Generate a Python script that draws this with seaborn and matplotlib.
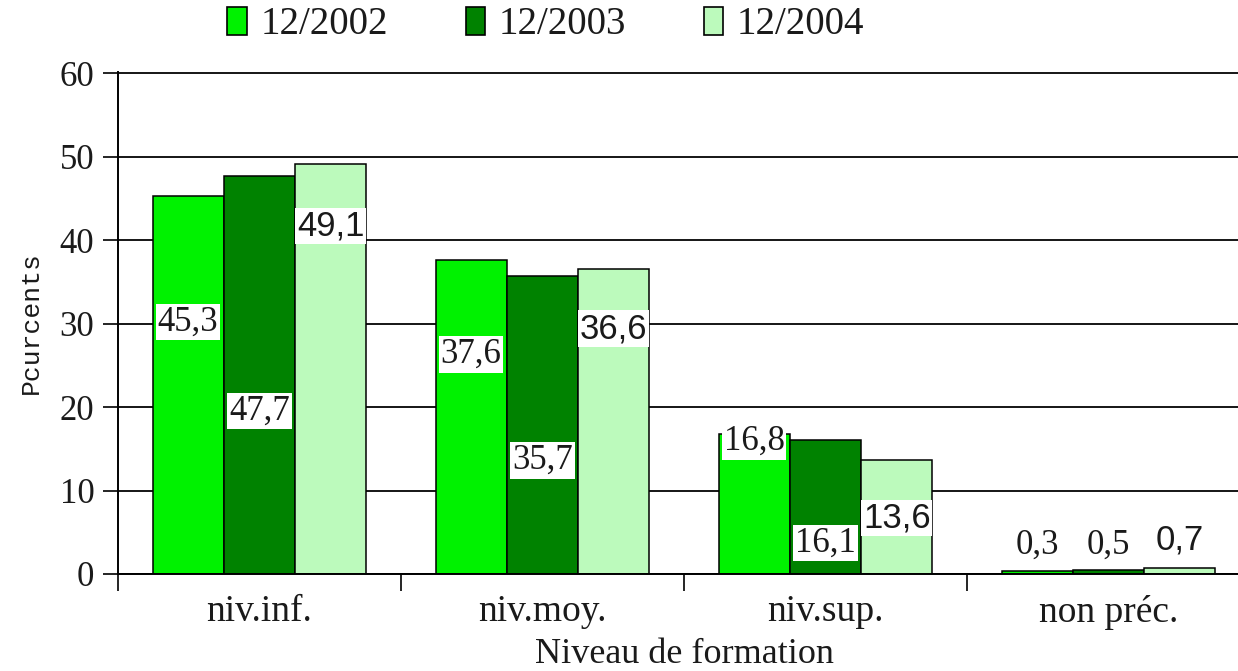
import numpy as np
import pandas as pd
import seaborn as sns
import matplotlib.pyplot as plt
from matplotlib.patches import Patch
from matplotlib.ticker import FixedLocator

# ---- data ----
categories = ["niv.inf.", "niv.moy.", "niv.sup.", "non préc."]
periods = ["12/2002", "12/2003", "12/2004"]
v2002 = [45.3, 37.6, 16.8, 0.3]
v2003 = [47.7, 35.7, 16.1, 0.5]
v2004 = [49.1, 36.6, 13.6, 0.7]
series = [v2002, v2003, v2004]
yticks = [0, 10, 20, 30, 40, 50, 60]

# ---- layout / style ----
colors = ["#00F200", "#008200", "#BCFABC"]
label_y = [  # vertical placement (data units) of value labels, per series
    [30.2, 26.3, 15.9, 3.5],
    [19.5, 13.6, 3.7, 3.5],
    [41.7, 29.4, 6.7, 4.1],
]
label_family = ["Liberation Serif", "Liberation Serif", "Liberation Sans"]
label_size = [25, 25, 25]

df = pd.DataFrame({
    "Niveau": categories * len(periods),
    "Periode": np.repeat(periods, len(categories)),
    "Pourcents": v2002 + v2003 + v2004,
})

sns.set_theme(style="white")
plt.rcParams["font.family"] = ["Liberation Serif", "DejaVu Serif"]
text_col = "#1a1a1a"

fig = plt.figure(figsize=(12.38, 6.71), dpi=100)
ax = fig.add_axes([118 / 1238, 97 / 671, 1132 / 1238, 502 / 671])

sns.barplot(data=df, x="Niveau", y="Pourcents", hue="Periode",
            palette=colors, width=0.756, gap=0, edgecolor="black",
            linewidth=1.1, saturation=1, legend=False, ax=ax, zorder=2)

ax.set_xlim(-0.5, 3.5)
ax.set_ylim(0, 60.15)
ax.set_yticks(yticks)
ax.set_yticklabels([str(t) for t in yticks], fontsize=25, color=text_col)
ax.yaxis.grid(True, color="#151515", linewidth=1.4)
ax.xaxis.grid(False)
ax.set_axisbelow(True)

ax.set_xticks(range(len(categories)))
ax.set_xticklabels(categories, fontsize=27, color=text_col)
ax.xaxis.set_minor_locator(FixedLocator([-0.5, 0.5, 1.5, 2.5]))
ax.tick_params(axis="x", which="major", length=0, pad=15)
ax.tick_params(axis="x", which="minor", length=12, width=1.2, color="black", direction="out", bottom=True)
ax.tick_params(axis="y", which="major", length=11, width=1.2, color="black", direction="out", pad=6, left=True)

for s in ["top", "right"]:
    ax.spines[s].set_visible(False)
for s in ["left", "bottom"]:
    ax.spines[s].set_color("black")
    ax.spines[s].set_linewidth(1.4)

ax.set_xlabel("Niveau de formation", fontsize=26, color=text_col)
ax.xaxis.set_label_coords(0.5, -0.128)
ax.set_ylabel("Pcurcents", fontsize=19, family="Liberation Mono", color=text_col)
ax.yaxis.set_label_coords(-0.066, 0.5)

for i, cont in enumerate(ax.containers):
    for j, bar in enumerate(cont):
        x = bar.get_x() + bar.get_width() / 2
        ax.text(x, label_y[i][j], f"{series[i][j]:.1f}".replace(".", ","),
                ha="center", va="center", fontsize=label_size[i],
                family=label_family[i], color=text_col, zorder=5,
                bbox=dict(facecolor="white", edgecolor="none", pad=1.2))

handles = [Patch(facecolor=c, edgecolor="black", linewidth=1.2) for c in colors]
fig.legend(handles, periods, loc="center", bbox_to_anchor=(0.441, 0.963),
           ncol=3, frameon=False, fontsize=28, handlelength=0.5,
           handleheight=0.72, handletextpad=0.35, columnspacing=2.0,
           labelcolor=text_col, borderaxespad=0, borderpad=0)

fig.savefig("out.png", dpi=100)
